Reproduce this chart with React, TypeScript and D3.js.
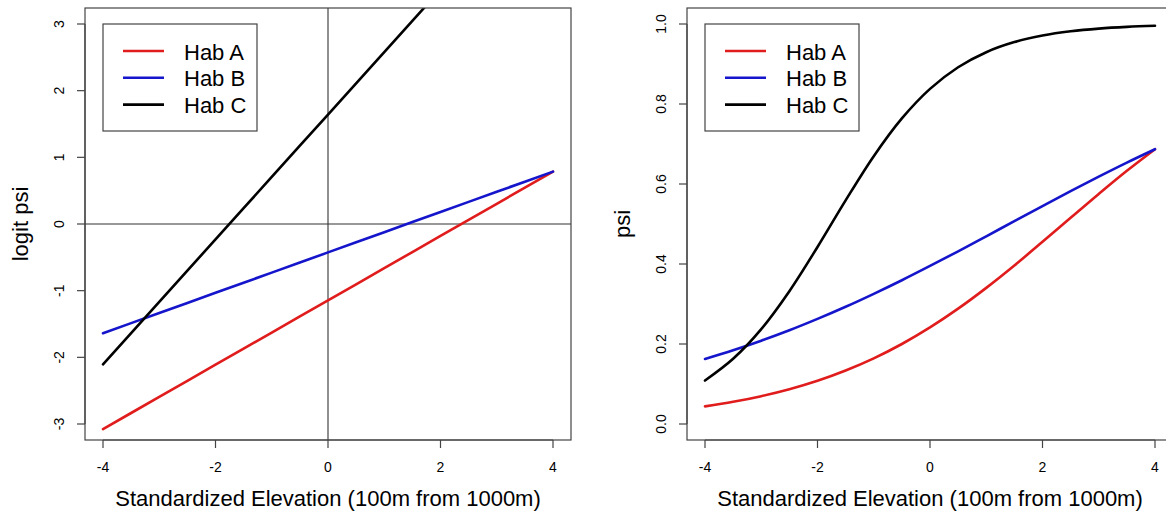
import React from 'react';
import * as d3 from 'd3';

// elevation grid (standardized, 100m from 1000m)
const elevation = [-4, -3.5, -3, -2.5, -2, -1.5, -1, -0.5, 0, 0.5, 1, 1.5, 2, 2.5, 3, 3.5, 4];

// logit psi
const logitHabA = [-3.076, -2.835, -2.593, -2.352, -2.111, -1.869, -1.628, -1.386, -1.145, -0.904, -0.662, -0.421, -0.179, 0.062, 0.303, 0.545, 0.786];
const logitHabB = [-1.638, -1.487, -1.335, -1.184, -1.032, -0.881, -0.729, -0.578, -0.426, -0.275, -0.123, 0.029, 0.18, 0.332, 0.483, 0.635, 0.786];
const logitHabC = [-2.104, -1.636, -1.168, -0.699, -0.231, 0.237, 0.706, 1.174, 1.642, 2.11, 2.579, 3.047, 3.515, 3.983, 4.452, 4.92, 5.388];

// psi
const psiHabA = [0.044, 0.0555, 0.0696, 0.0869, 0.108, 0.1337, 0.1641, 0.2, 0.2414, 0.2883, 0.3403, 0.3963, 0.4554, 0.5155, 0.5752, 0.633, 0.687];
const psiHabB = [0.1627, 0.1844, 0.2083, 0.2343, 0.2627, 0.293, 0.3254, 0.3594, 0.3951, 0.4317, 0.4693, 0.5072, 0.5449, 0.5822, 0.6185, 0.6536, 0.687];
const psiHabC = [0.1087, 0.163, 0.2372, 0.332, 0.4425, 0.559, 0.6695, 0.7639, 0.8378, 0.8919, 0.9295, 0.9547, 0.9711, 0.9817, 0.9885, 0.9928, 0.9955];

const habitats = ['Hab A', 'Hab B', 'Hab C'];
const habColors = ['#e01c1c', '#1515cc', '#000000'];

const xTicks = [-4, -2, 0, 2, 4];
const logitTicks = [-3, -2, -1, 0, 1, 2, 3];
const psiTicks = [0, 0.2, 0.4, 0.6, 0.8, 1.0];

const WIDTH = 1166;
const HEIGHT = 514;
const FONT = '"Liberation Sans", Arial, Helvetica, sans-serif';
const AXIS_COLOR = '#444';

function Panel({ left, yDomain, yTicks, yFormat, yLabel, series, curve, refLines, id }) {
    const plotLeft = left;
    const plotRight = left + 486;
    const plotTop = 8;
    const plotBottom = 440;

    const x = d3.scaleLinear().domain([-4.32, 4.32]).range([plotLeft, plotRight]);
    const y = d3.scaleLinear().domain(yDomain).range([plotBottom, plotTop]);

    const line = d3.line()
        .x((d, i) => x(elevation[i]))
        .y(d => y(d))
        .curve(curve);

    const legendLeft = left + 18;

    return (
        <g>
            <defs>
                <clipPath id={id}>
                    <rect x={plotLeft} y={plotTop} width={plotRight - plotLeft} height={plotBottom - plotTop} />
                </clipPath>
            </defs>

            {refLines && (
                <g stroke="#333" strokeWidth={1.1}>
                    <line x1={plotLeft} x2={plotRight} y1={y(0)} y2={y(0)} />
                    <line x1={x(0)} x2={x(0)} y1={plotTop} y2={plotBottom} />
                </g>
            )}

            <g clipPath={`url(#${id})`}>
                {series.map((s, i) => (
                    <path key={habitats[i]} d={line(s)} fill="none" stroke={habColors[i]}
                        strokeWidth={2.6} strokeLinecap="round" />
                ))}
            </g>

            <rect x={plotLeft} y={plotTop} width={plotRight - plotLeft} height={plotBottom - plotTop}
                fill="none" stroke={AXIS_COLOR} strokeWidth={1.2} />

            {/* x axis */}
            <g stroke={AXIS_COLOR} strokeWidth={1.2}>
                <line x1={x(xTicks[0])} x2={x(xTicks[xTicks.length - 1])} y1={plotBottom} y2={plotBottom} />
                {xTicks.map(t => (
                    <line key={t} x1={x(t)} x2={x(t)} y1={plotBottom} y2={plotBottom + 8} />
                ))}
            </g>
            {xTicks.map(t => (
                <text key={t} x={x(t)} y={472} textAnchor="middle" fontSize={14} fontFamily={FONT}>
                    {t}
                </text>
            ))}
            <text x={x(0)} y={506} textAnchor="middle" fontSize={22} fontFamily={FONT}>
                Standardized Elevation (100m from 1000m)
            </text>

            {/* y axis */}
            <g stroke={AXIS_COLOR} strokeWidth={1.2}>
                <line x1={plotLeft} x2={plotLeft} y1={y(yTicks[0])} y2={y(yTicks[yTicks.length - 1])} />
                {yTicks.map(t => (
                    <line key={t} x1={plotLeft - 8} x2={plotLeft} y1={y(t)} y2={y(t)} />
                ))}
            </g>
            {yTicks.map(t => (
                <text key={t} transform={`translate(${plotLeft - 21},${y(t)}) rotate(-90)`}
                    textAnchor="middle" fontSize={14} fontFamily={FONT}>
                    {yFormat(t)}
                </text>
            ))}
            <text transform={`translate(${plotLeft - 57},${(plotTop + plotBottom) / 2}) rotate(-90)`}
                textAnchor="middle" fontSize={22} fontFamily={FONT}>
                {yLabel}
            </text>

            {/* legend */}
            <rect x={legendLeft} y={24} width={154} height={107} fill="white" stroke={AXIS_COLOR} strokeWidth={1.2} />
            {habitats.map((h, i) => (
                <g key={h} transform={`translate(0,${51 + i * 26.8})`}>
                    <line x1={legendLeft + 20} x2={legendLeft + 61} y1={0} y2={0}
                        stroke={habColors[i]} strokeWidth={2.6} />
                    <text x={legendLeft + 81} y={8.5} fontSize={22} fontFamily={FONT}>{h}</text>
                </g>
            ))}
        </g>
    );
}

export default function App() {
    return (
        <div style={{ position: 'absolute', left: 0, top: 0 }}>
            <svg width={WIDTH} height={HEIGHT} style={{ display: 'block', background: 'white' }}>
                <Panel
                    id="clip-logit"
                    left={85}
                    yDomain={[-3.24, 3.24]}
                    yTicks={logitTicks}
                    yFormat={t => String(t)}
                    yLabel="logit psi"
                    series={[logitHabA, logitHabB, logitHabC]}
                    curve={d3.curveLinear}
                    refLines
                />
                <Panel
                    id="clip-psi"
                    left={687}
                    yDomain={[-0.04, 1.04]}
                    yTicks={psiTicks}
                    yFormat={t => d3.format('.1f')(t)}
                    yLabel="psi"
                    series={[psiHabA, psiHabB, psiHabC]}
                    curve={d3.curveCatmullRom}
                    refLines={false}
                />
            </svg>
        </div>
    );
}
